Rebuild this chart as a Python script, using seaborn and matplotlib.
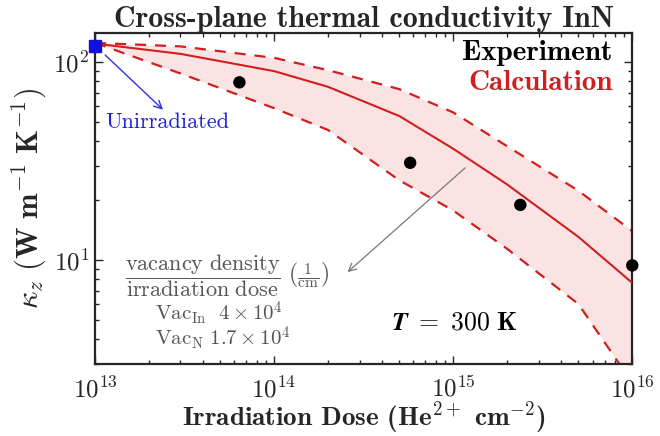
import numpy as np
import pandas as pd
import matplotlib
matplotlib.use("Agg")
import matplotlib.pyplot as plt
import seaborn as sns

# Irradiation dose grid (He2+ cm^-2) and calculated kappa_z (W m^-1 K^-1)
dose = [1e13, 3e13, 1e14, 2e14, 5e14, 1e15, 2e15, 5e15, 1e16]
kappa_calc = [124, 110, 90, 75, 53.4, 36.5, 24.1, 13.1, 7.67]
kappa_upper = [125, 120, 105, 91, 73, 55.7, 37.6, 22.4, 14.0]
kappa_lower = [125, 87.6, 58.5, 45.4, 25.3, 17.8, 11.4, 6.0, 2.4]

# Measured values
exp_dose = [6.4e13, 5.75e14, 2.37e15, 1e16]
exp_kappa = [79, 31, 19, 9.4]

# Unirradiated reference sample
unirr_dose = [1e13]
unirr_kappa = [120]

xticks = [1e13, 1e14, 1e15, 1e16]
xticklabels = [r"$\mathbf{10^{13}}$", r"$\mathbf{10^{14}}$", r"$\mathbf{10^{15}}$", r"$\mathbf{10^{16}}$"]
yticks = [10, 100]
yticklabels = [r"$\mathbf{10^{1}}$", r"$\mathbf{10^{2}}$"]

sns.set_style("ticks")
plt.rcParams["mathtext.fontset"] = "cm"
plt.rcParams["font.family"] = ["cmr10", "DejaVu Serif"]
plt.rcParams["axes.unicode_minus"] = False
plt.rcParams["axes.formatter.use_mathtext"] = True

red = "#cf1f1f"
pink = "#fce3e3"
gray = "#555555"

calc = pd.DataFrame({"dose": dose, "calc": kappa_calc,
                     "upper": kappa_upper, "lower": kappa_lower})
exp = pd.DataFrame({"dose": exp_dose, "kappa": exp_kappa})

fig = plt.figure(figsize=(6.6, 4.36), dpi=100)
ax = fig.add_axes([0.144, 0.166, 0.814, 0.758])
ax.set_xscale("log")
ax.set_yscale("log")

ax.fill_between(calc["dose"], calc["lower"], calc["upper"], color=pink, lw=0, zorder=1)
sns.lineplot(data=calc, x="dose", y="upper", ax=ax, color=red, lw=1.6,
             linestyle=(0, (5, 4)), zorder=2)
sns.lineplot(data=calc, x="dose", y="lower", ax=ax, color=red, lw=1.6,
             linestyle=(0, (5, 4)), zorder=2)
sns.lineplot(data=calc, x="dose", y="calc", ax=ax, color=red, lw=1.5, zorder=3)
sns.scatterplot(data=exp, x="dose", y="kappa", ax=ax, color="black", s=80,
                edgecolor="none", zorder=5, clip_on=False)
ax.plot(unirr_dose, unirr_kappa, marker="s", color="#1010e0", ms=8,
        ls="none", zorder=6, clip_on=False)

ax.set_xlim(1e13, 1e16)
ax.set_ylim(3, 140)
ax.set_xticks(xticks)
ax.set_xticklabels(xticklabels)
ax.set_yticks(yticks)
ax.set_yticklabels(yticklabels)
ax.tick_params(which="both", direction="in", top=True, right=True, width=1.0)
ax.tick_params(which="major", length=6, labelsize=18, pad=9)
ax.tick_params(which="minor", length=3)
ax.tick_params(axis="y", which="major", pad=4)
for sp in ax.spines.values():
    sp.set_linewidth(1.6)

ax.set_xlabel(r"Irradiation Dose (He$^{\mathbf{2+}}$ cm$^{\mathbf{-2}}$)",
              fontfamily="cmb10", fontsize=19.5, labelpad=-2)
ax.set_ylabel(r"$\kappa_z\ \mathbf{(W\ m^{-1}\ K^{-1})}$", fontsize=22, labelpad=4)
ax.set_title("Cross-plane thermal conductivity InN", fontfamily="cmb10",
             fontsize=21.5, pad=3)

ax.text(0.963, 0.94, "Experiment", transform=ax.transAxes, ha="right", va="center",
        fontfamily="cmb10", fontsize=21, color="black")
ax.text(0.963, 0.85, "Calculation", transform=ax.transAxes, ha="right", va="center",
        fontfamily="cmb10", fontsize=21, color=red)

ax.annotate("", xy=(2.46e13, 56.2), xytext=(1.11e13, 111),
            arrowprops=dict(arrowstyle="->", color="#3030e0", lw=1.0,
                            mutation_scale=14))
ax.text(0.0186, 0.73, "Unirradiated", transform=ax.transAxes, ha="left", va="center",
        fontsize=16, color="#2020d8")

ax.annotate("", xy=(2.5e14, 8.5), xytext=(1.2e15, 29.9),
            arrowprops=dict(arrowstyle="->", color="#777777", lw=0.9,
                            mutation_scale=14))
ax.text(0.055, 0.267,
        r"$\dfrac{\mathrm{vacancy\ density}}{\mathrm{irradiation\ dose}}\ \left(\frac{1}{\mathrm{cm}}\right)$",
        transform=ax.transAxes, ha="left", va="center", fontsize=16, color=gray)
ax.text(0.112, 0.153, r"$\mathrm{Vac_{In}}\ \ 4\times10^4$", transform=ax.transAxes,
        ha="left", va="center", fontsize=15, color=gray)
ax.text(0.112, 0.077, r"$\mathrm{Vac_{N}}\ 1.7\times10^4$", transform=ax.transAxes,
        ha="left", va="center", fontsize=15, color=gray)
ax.text(0.55, 0.125, r"$\mathbfit{T}\ \mathbf{=\ 300\ K}$", transform=ax.transAxes,
        ha="left", va="center", fontsize=18.5, color="black")

fig.savefig("out.png", dpi=100)
